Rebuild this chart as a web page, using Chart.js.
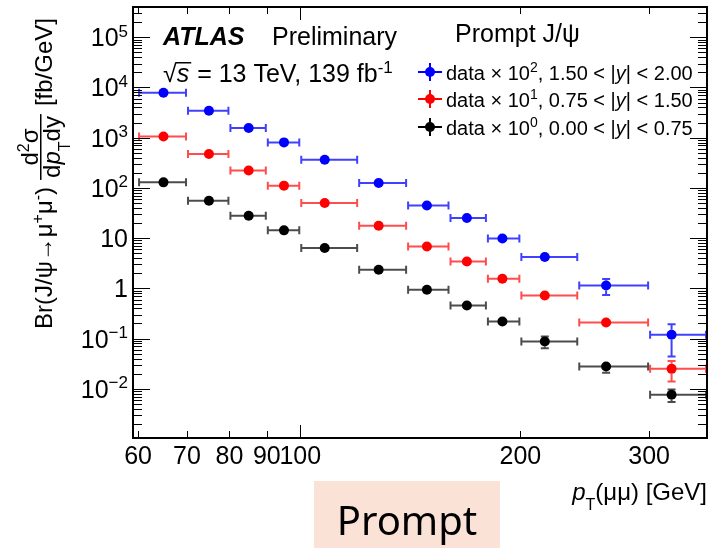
<!DOCTYPE html>
<html>
<head>
<meta charset="utf-8">
<title>Prompt J/psi cross-section vs pT</title>
<script src="https://cdn.jsdelivr.net/npm/chart.js@4.4.0/dist/chart.umd.min.js"></script>
<style>
  html, body { margin: 0; padding: 0; background: #fff; }
  canvas { display: block; }
</style>
</head>
<body>
<canvas id="xsec_chart" width="712" height="548"></canvas>
<script>
'use strict';

// pT bin edges [GeV] and the mean pT inside each bin
const bin_edges = [60, 70, 80, 90, 100, 120, 140, 160, 180, 200, 240, 300, 360];
const pt_mean = [65, 75, 85, 95, 108, 128, 149, 169, 189, 216, 262, 322];

// Br x d2sigma/dpT dy [fb/GeV], already scaled by the legend factor
const y_forward = [7870, 3450, 1560, 806, 365, 125, 44.8, 25.1, 9.86, 4.2, 1.14, 0.119];
const err_forward = [160, 70, 35, 18, 8, 3, 1.3, 0.9, 0.35, 0.4, 0.4, 0.075];
const y_mid = [1060, 473, 223, 111, 50, 17.7, 6.84, 3.44, 1.55, 0.723, 0.21, 0.025];
const err_mid = [20, 9, 5, 2.5, 1.2, 0.5, 0.25, 0.15, 0.08, 0.04, 0.02, 0.011];
const y_central = [129, 55.6, 27.9, 14.3, 6.35, 2.35, 0.94, 0.456, 0.219, 0.0875, 0.0278, 0.0076];
const err_central = [2.5, 1.2, 0.6, 0.35, 0.18, 0.08, 0.04, 0.025, 0.015, 0.023, 0.007, 0.0021];

const x_tick_values = [60, 70, 80, 90, 100, 200, 300];
const x_tick_labels = ['60', '70', '80', '90', '100', '200', '300'];
const y_tick_values = [1e5, 1e4, 1e3, 1e2, 10, 1, 0.1, 0.01];
const y_tick_labels = [['10', '5'], ['10', '4'], ['10', '3'], ['10', '2'], ['10', ''], ['1', ''], ['10', '\u22121'], ['10', '\u22122']];

const legend_labels = [
    [{t: 'data \u00d7 10'}, {t: '2', s: 'sup'}, {t: ', 1.50 < |'}, {t: 'y', s: 'i'}, {t: '| < 2.00'}],
    [{t: 'data \u00d7 10'}, {t: '1', s: 'sup'}, {t: ', 0.75 < |'}, {t: 'y', s: 'i'}, {t: '| < 1.50'}],
    [{t: 'data \u00d7 10'}, {t: '0', s: 'sup'}, {t: ', 0.00 < |'}, {t: 'y', s: 'i'}, {t: '| < 0.75'}],
];
const legend_colors = ['#0000ff', '#ff0000', '#000000'];

const FONT = "'Liberation Sans', Arial, Helvetica, sans-serif";

function font(size, style) {
    return (style || '') + ' ' + size + 'px ' + FONT;
}

function part_font(p, size) {
    switch (p.s) {
        case 'sup': return {font: font(Math.round(size * 0.68)), dy: -size * 0.38};
        case 'sub': return {font: font(Math.round(size * 0.68)), dy: size * 0.42};
        case 'i': return {font: font(size, 'italic'), dy: 0};
        case 'bi': return {font: font(size, 'italic bold'), dy: 0};
        default: return {font: font(size), dy: 0};
    }
}

function rich_width(ctx, parts, size) {
    let w = 0;
    parts.forEach(p => {
        ctx.font = part_font(p, size).font;
        w += ctx.measureText(p.t).width;
    });
    return w;
}

// draws a run of text pieces (italic / super- / subscript), returns the end x
function draw_rich(ctx, parts, x, y, size, align) {
    const w = rich_width(ctx, parts, size);
    let cx = align === 'right' ? x - w : (align === 'center' ? x - w / 2 : x);
    ctx.textAlign = 'left';
    ctx.textBaseline = 'alphabetic';
    parts.forEach(p => {
        const f = part_font(p, size);
        ctx.font = f.font;
        ctx.fillText(p.t, cx, y + f.dy);
        cx += ctx.measureText(p.t).width;
    });
    return cx;
}

function make_points(values, errors) {
    return values.map((v, i) => ({
        x: pt_mean[i], y: v, lo: bin_edges[i], hi: bin_edges[i + 1], err: errors[i]
    }));
}

// horizontal bin-width bars and vertical uncertainty bars, drawn under each dataset's markers
const error_bars = {
    id: 'error_bars',
    beforeDatasetDraw(chart, args) {
        const ds = chart.data.datasets[args.index];
        const xs = chart.scales.x, ys = chart.scales.y;
        const ctx = chart.ctx;
        ctx.save();
        ctx.strokeStyle = ds.barColor;
        ctx.lineWidth = 2;
        ds.data.forEach(p => {
            const px = xs.getPixelForValue(p.x);
            const py = ys.getPixelForValue(p.y);
            const x0 = xs.getPixelForValue(p.lo);
            const x1 = xs.getPixelForValue(p.hi);
            ctx.beginPath();
            ctx.moveTo(x0, py); ctx.lineTo(x1, py);
            ctx.moveTo(x0 + 1, py - 4); ctx.lineTo(x0 + 1, py + 4);
            ctx.moveTo(x1 - 1, py - 4); ctx.lineTo(x1 - 1, py + 4);
            const yt = ys.getPixelForValue(p.y + p.err);
            const yb = ys.getPixelForValue(Math.max(p.y - p.err, 1e-6));
            if (py - yt > 5) {
                ctx.moveTo(px, yt); ctx.lineTo(px, py - 5);
                ctx.moveTo(px - 4, yt); ctx.lineTo(px + 4, yt);
            }
            if (yb - py > 5) {
                ctx.moveTo(px, py + 5); ctx.lineTo(px, yb);
                ctx.moveTo(px - 4, yb); ctx.lineTo(px + 4, yb);
            }
            ctx.stroke();
        });
        ctx.restore();
    }
};

// frame with inward ticks on all four sides
const atlas_axes = {
    id: 'atlas_axes',
    afterDatasetsDraw(chart) {
        const {ctx, chartArea: a, scales: {x, y}} = chart;
        ctx.save();
        ctx.strokeStyle = '#000';
        ctx.lineWidth = 1;
        ctx.beginPath();
        for (let d = -3; d <= 5; d++) {
            for (let m = 1; m <= 9; m++) {
                const v = m * Math.pow(10, d);
                if (v < y.min || v > y.max) continue;
                const py = Math.round(y.getPixelForValue(v)) + 0.5;
                const len = m === 1 ? 17 : 9;
                ctx.moveTo(a.left, py); ctx.lineTo(a.left + len, py);
                ctx.moveTo(a.right, py); ctx.lineTo(a.right - len, py);
            }
        }
        x_tick_values.forEach(v => {
            const px = Math.round(x.getPixelForValue(v)) + 0.5;
            const len = v === 100 ? 13 : 7;
            ctx.moveTo(px, a.bottom); ctx.lineTo(px, a.bottom - len);
            ctx.moveTo(px, a.top); ctx.lineTo(px, a.top + len);
        });
        ctx.stroke();
        ctx.lineWidth = 2;
        ctx.strokeRect(a.left, a.top, a.right - a.left, a.bottom - a.top);
        ctx.restore();
    },
    afterDraw(chart) {
        const {ctx, chartArea: a, scales: {x, y}} = chart;
        ctx.save();
        ctx.fillStyle = '#000';

        // tick labels
        y_tick_values.forEach((v, i) => {
            const py = y.getPixelForValue(v);
            const lab = y_tick_labels[i];
            const parts = [{t: lab[0]}];
            if (lab[1]) parts.push({t: lab[1], s: 'sup'});
            draw_rich(ctx, parts, 128, py + 9, 25, 'right');
        });
        x_tick_values.forEach((v, i) => {
            draw_rich(ctx, [{t: x_tick_labels[i]}], x.getPixelForValue(v), 464, 25, 'center');
        });

        // x title
        draw_rich(ctx, [{t: 'p', s: 'i'}, {t: 'T', s: 'sub'}, {t: '(\u03bc\u03bc) [GeV]'}], a.right, 500, 24, 'right');

        // y title, rotated
        ctx.save();
        ctx.translate(52, 329);
        ctx.rotate(-Math.PI / 2);
        let u = draw_rich(ctx, [{t: 'Br(J/\u03c8\u2192\u03bc'}, {t: '+', s: 'sup'}, {t: '\u03bc'}, {t: '-', s: 'sup'}, {t: ')'}], 0, 0, 24, 'left');
        u += 7;
        const num = [{t: 'd'}, {t: '2', s: 'sup'}, {t: '\u03c3'}];
        const den = [{t: 'd'}, {t: 'p', s: 'i'}, {t: 'T', s: 'sub'}, {t: 'dy'}];
        const fw = Math.max(rich_width(ctx, num, 24), rich_width(ctx, den, 24)) + 4;
        draw_rich(ctx, num, u + fw / 2, -14, 24, 'center');
        draw_rich(ctx, den, u + fw / 2, 8, 24, 'center');
        ctx.fillRect(u, -12, fw, 1.5);
        u += fw + 8;
        draw_rich(ctx, [{t: '[fb/GeV]'}], u, 0, 24, 'left');
        ctx.restore();

        // ATLAS label and dataset info
        draw_rich(ctx, [{t: 'ATLAS', s: 'bi'}], 163, 45, 25, 'left');
        draw_rich(ctx, [{t: 'Preliminary'}], 272, 45, 25, 'left');
        ctx.font = font(25);
        ctx.textAlign = 'left';
        ctx.fillText('\u221a', 163, 82);
        const rw = ctx.measureText('\u221a').width;
        const sx = draw_rich(ctx, [{t: 's', s: 'i'}], 163 + rw, 82, 25, 'left');
        ctx.fillRect(163 + rw - 1, 62, sx - 163 - rw + 3, 1.5);
        draw_rich(ctx, [{t: ' = 13 TeV, 139 fb'}, {t: '-1', s: 'sup'}], sx + 1, 82, 25, 'left');
        draw_rich(ctx, [{t: 'Prompt J/\u03c8'}], 455, 42, 25, 'left');

        // legend
        const rows = [72, 99, 127];
        legend_labels.forEach((parts, i) => {
            const cy = rows[i];
            ctx.strokeStyle = legend_colors[i];
            ctx.fillStyle = legend_colors[i];
            ctx.lineWidth = 2;
            ctx.beginPath();
            ctx.moveTo(418, cy); ctx.lineTo(442, cy);
            ctx.moveTo(430, cy - 9); ctx.lineTo(430, cy + 9);
            ctx.stroke();
            ctx.beginPath();
            ctx.arc(430, cy, 5, 0, Math.PI * 2);
            ctx.fill();
            ctx.fillStyle = '#000';
            draw_rich(ctx, parts, 446, cy + 8, 20, 'left');
        });

        // tag box under the axis
        ctx.fillStyle = '#fae3d6';
        ctx.fillRect(314, 481, 186, 67);
        ctx.fillStyle = '#000';
        ctx.font = "40px 'Noto Sans', 'Open Sans', sans-serif";
        ctx.textAlign = 'center';
        ctx.fillText('Prompt', 407, 535);
        ctx.restore();
    }
};

document.addEventListener('DOMContentLoaded', function(_event) {
    const ctx = document.getElementById('xsec_chart').getContext('2d');
    new Chart(ctx, {
        type: 'scatter',
        data: {
            datasets: [{
                label: 'data x 10^0, 0.00 < |y| < 0.75',
                data: make_points(y_central, err_central),
                backgroundColor: '#000000',
                barColor: 'rgba(0,0,0,0.7)',
            }, {
                label: 'data x 10^1, 0.75 < |y| < 1.50',
                data: make_points(y_mid, err_mid),
                backgroundColor: '#ff0000',
                barColor: 'rgba(255,0,0,0.7)',
            }, {
                label: 'data x 10^2, 1.50 < |y| < 2.00',
                data: make_points(y_forward, err_forward),
                backgroundColor: '#0000ff',
                barColor: 'rgba(0,0,255,0.75)',
            }]
        },
        options: {
            responsive: false,
            animation: false,
            events: [],
            layout: {padding: {left: 133, right: 5, top: 7, bottom: 110}},
            elements: {point: {radius: 5, borderWidth: 0, hoverRadius: 5}},
            plugins: {legend: {display: false}, tooltip: {enabled: false}},
            scales: {
                x: {type: 'logarithmic', min: 59.05, max: 360, display: false},
                y: {type: 'logarithmic', min: 1.05e-3, max: 4e5, display: false}
            }
        },
        plugins: [error_bars, atlas_axes]
    });
});
</script>
</body>
</html>
